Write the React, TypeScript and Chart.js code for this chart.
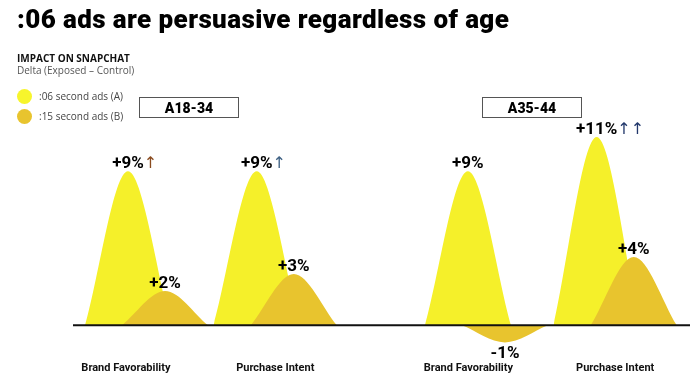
import React, { useEffect, useRef } from "react";
import { Chart, registerables } from "chart.js";

Chart.register(...registerables);

// ---------- data ----------
const titleText = ":06 ads are persuasive regardless of age";
const subtitleText = "IMPACT ON SNAPCHAT";
const subtitle2Text = "Delta (Exposed – Control)";
const seriesNames = [":06 second ads (A)", ":15 second ads (B)"];
const ageGroups = ["A18-34", "A35-44"];
const categories = ["Brand Favorability", "Purchase Intent", "Brand Favorability", "Purchase Intent"];
const seriesA = [9, 9, 9, 11];
const seriesB = [2, 3, -1, 4];
const sigA = ["↑", "↑", "", "↑↑"];
const sigColors = ["#8a4b1f", "#3f6184", "", "#22386b"];

// ---------- layout / style ----------
const catPos = [0, 1, 2.64, 3.64];
const labelPos = [-0.16, 1.0, 2.5, 3.64];
const seriesOffset = 0.144;
const halfWidth = 0.334;
const colors = ["#F5F02A", "#E8C42E"];
const legendColors = ["#F7F52C", "#E8C42E"];
const boxLeft = [139, 482];

const mountain = (center: number, value: number) => [
  { x: center - halfWidth, y: 0 },
  { x: center, y: value },
  { x: center + halfWidth, y: 0 },
];

const fmt = (v: number) => (v > 0 ? "+" : "") + v + "%";

const overlayPlugin = {
  id: "overlay",
  afterDatasetsDraw(chart: any) {
    const ctx = chart.ctx;
    const { left, right } = chart.chartArea;
    const xs = chart.scales.x;
    const y0 = chart.scales.y.getPixelForValue(0);
    ctx.save();
    ctx.strokeStyle = "#111";
    ctx.lineWidth = 2;
    ctx.beginPath();
    ctx.moveTo(left, y0);
    ctx.lineTo(right, y0);
    ctx.stroke();

    // category labels
    ctx.font = "bold 11px Roboto";
    ctx.fillStyle = "#111";
    ctx.textAlign = "center";
    ctx.textBaseline = "alphabetic";
    categories.forEach((c, i) => {
      ctx.fillText(c, xs.getPixelForValue(labelPos[i]), y0 + 46);
    });

    chart.data.datasets.forEach((ds: any, di: number) => {
      const meta = chart.getDatasetMeta(di);
      const el = meta.data[1];
      if (!el) return;
      const v = ds.data[1].y;
      const txt = fmt(v);
      ctx.font = "bold 17px Roboto";
      ctx.fillStyle = "#000";
      ctx.textAlign = "center";
      if (v >= 0) {
        ctx.textBaseline = "alphabetic";
        ctx.fillText(txt, el.x, el.y - 3);
        const s = ds.sig;
        if (s) {
          const w = ctx.measureText(txt).width;
          ctx.font = "16px 'DejaVu Sans'";
          ctx.fillStyle = ds.sigColor;
          ctx.textAlign = "left";
          ctx.fillText(s, el.x + w / 2, el.y - 3);
        }
      } else {
        ctx.textBaseline = "top";
        ctx.fillText(txt, el.x, el.y + 3);
      }
    });
    ctx.restore();
  },
};

function ChartCanvas() {
  const ref = useRef<HTMLCanvasElement | null>(null);
  useEffect(() => {
    if (!ref.current) return;
    const datasets: any[] = [
      ...seriesB.map((v, i) => ({
        label: seriesNames[1],
        data: mountain(catPos[i] + seriesOffset, v),
        backgroundColor: colors[1],
        borderWidth: 0,
        fill: "origin",
        pointRadius: 0,
        cubicInterpolationMode: "monotone",
        order: 0,
      })),
      ...seriesA.map((v, i) => ({
        label: seriesNames[0],
        data: mountain(catPos[i] - seriesOffset, v),
        backgroundColor: colors[0],
        borderWidth: 0,
        fill: "origin",
        pointRadius: 0,
        cubicInterpolationMode: "monotone",
        order: 1,
        sig: sigA[i],
        sigColor: sigColors[i],
      })),
    ];
    const chart = new Chart(ref.current, {
      type: "line",
      data: { datasets },
      options: {
        animation: false,
        responsive: false,
        devicePixelRatio: 1,
        events: [],
        layout: { padding: { left: 73, right: 10, top: 120, bottom: 29 } },
        plugins: { legend: { display: false }, tooltip: { enabled: false } },
        scales: {
          x: { type: "linear", min: -0.571, max: 4.221, display: false },
          y: { type: "linear", min: -1.5, max: 12, display: false },
        },
      } as any,
      plugins: [overlayPlugin],
    });
    return () => chart.destroy();
  }, []);
  return (
    <canvas
      ref={ref}
      width={700}
      height={380}
      style={{ position: "absolute", left: 0, top: 0, width: 700, height: 380, display: "block" }}
    />
  );
}

const abs = (o: any): React.CSSProperties => ({ position: "absolute", whiteSpace: "nowrap", ...o });

export default function App() {
  return (
    <div style={{ position: "absolute", left: 0, top: 0, width: 700, height: 380, background: "#fff", overflow: "hidden" }}>
      <ChartCanvas />
      <div style={abs({ left: 17, top: 6, fontFamily: "Roboto", fontWeight: 900, fontSize: 26, lineHeight: "26px", letterSpacing: "0.4px", color: "#000" })}>
        {titleText}
      </div>
      <div style={abs({ left: 17, top: 53, fontFamily: "'Open Sans'", fontWeight: 700, fontSize: 10, lineHeight: "10px", color: "#111" })}>
        {subtitleText}
      </div>
      <div style={abs({ left: 17, top: 65, fontFamily: "'Open Sans'", fontSize: 10, lineHeight: "11px", color: "#555" })}>
        {subtitle2Text}
      </div>
      {seriesNames.map((n, i) => (
        <React.Fragment key={n}>
          <div
            style={abs({
              left: 17,
              top: 89 + i * 20,
              width: 15,
              height: 15,
              borderRadius: "50%",
              background: legendColors[i],
            })}
          />
          <div style={abs({ left: 39, top: 91 + i * 20, fontFamily: "'Open Sans'", fontSize: 10, lineHeight: "11px", color: "#444" })}>
            {n}
          </div>
        </React.Fragment>
      ))}
      {ageGroups.map((g, i) => (
        <div
          key={g}
          style={abs({
            left: boxLeft[i],
            top: 97,
            width: 100,
            height: 21,
            boxSizing: "border-box",
            border: "1px solid #555",
            display: "flex",
            alignItems: "center",
            justifyContent: "center",
            fontFamily: "Roboto",
            fontWeight: 900,
            fontSize: 14,
            color: "#000",
          })}
        >
          {g}
        </div>
      ))}
    </div>
  );
}
